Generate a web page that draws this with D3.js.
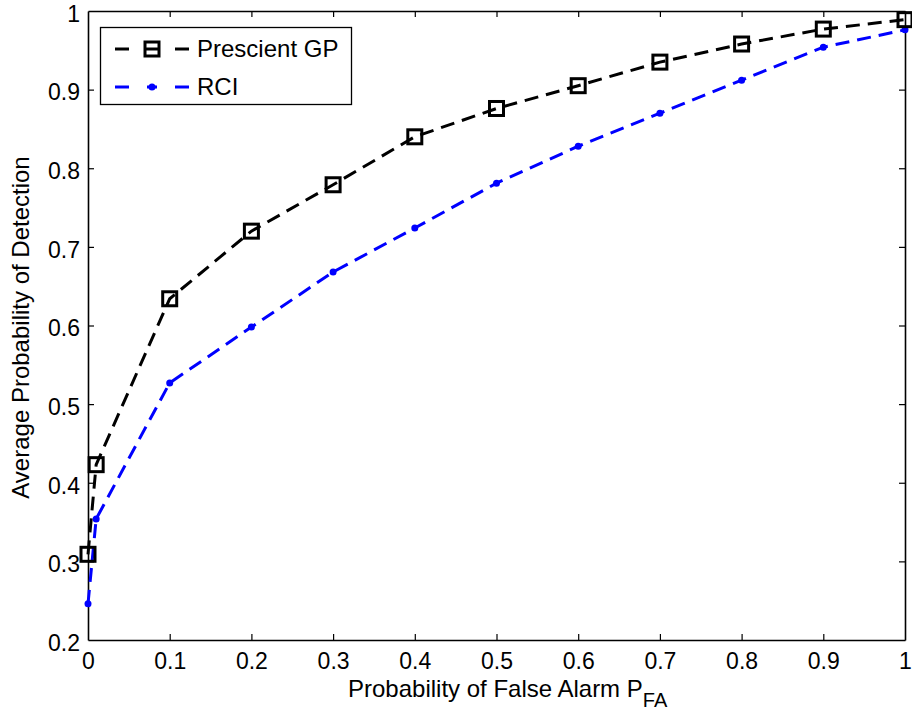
<!DOCTYPE html>
<html><head><meta charset="utf-8">
<script src="https://cdn.jsdelivr.net/npm/d3@7"></script>
<style>body{margin:0;background:#fff}svg{display:block}text{font-family:"Liberation Sans",Arial,sans-serif}</style>
</head><body>
<script>
const pfa = [0, 0.01, 0.1, 0.2, 0.3, 0.4, 0.5, 0.6, 0.7, 0.8, 0.9, 1.0];
const prescientGP = [0.309, 0.423, 0.634, 0.720, 0.779, 0.840, 0.876, 0.905, 0.935, 0.958, 0.977, 0.989];
const rci = [0.246, 0.354, 0.527, 0.598, 0.668, 0.724, 0.781, 0.828, 0.870, 0.912, 0.954, 0.976];
const xTicks = [0, 0.1, 0.2, 0.3, 0.4, 0.5, 0.6, 0.7, 0.8, 0.9, 1];
const yTicks = [0.2, 0.3, 0.4, 0.5, 0.6, 0.7, 0.8, 0.9, 1];
const seriesNames = ["Prescient GP", "RCI"];

const W = 912, H = 712;
const L = 88, R = 905, T = 11, B = 640;
const svg = d3.select("body").append("svg").attr("width", W).attr("height", H);
const x = d3.scaleLinear().domain([0, 1]).range([L, R]);
const y = d3.scaleLinear().domain([0.2, 1]).range([B, T]);
const fmt = d => d === 0 ? "0" : d === 1 ? "1" : String(d);
const fs = 23;

// axes box with inward ticks
const tl = 6;
const gx = svg.append("g").attr("transform", `translate(0,${B})`)
  .call(d3.axisBottom(x).tickValues(xTicks).tickFormat(fmt).tickSizeInner(-tl).tickSizeOuter(0).tickPadding(13));
const gxt = svg.append("g").attr("transform", `translate(0,${T})`)
  .call(d3.axisTop(x).tickValues(xTicks).tickFormat("").tickSizeInner(-tl).tickSizeOuter(0));
const gy = svg.append("g").attr("transform", `translate(${L},0)`)
  .call(d3.axisLeft(y).tickValues(yTicks).tickFormat(fmt).tickSizeInner(-tl).tickSizeOuter(0).tickPadding(8));
const gyr = svg.append("g").attr("transform", `translate(${R},0)`)
  .call(d3.axisRight(y).tickValues(yTicks).tickFormat("").tickSizeInner(-tl).tickSizeOuter(0));
[gx, gxt, gy, gyr].forEach(g => {
  g.selectAll("path").attr("stroke", "#000").attr("stroke-width", 1.6);
  g.selectAll("line").attr("stroke", "#000").attr("stroke-width", 1.2);
  g.selectAll("text").attr("font-size", fs).attr("fill", "#000").style("font-family", '"Liberation Sans",Arial,sans-serif');
});
gy.selectAll("text").attr("dy", "0.45em");
[gx, gxt].forEach(g => g.selectAll(".tick").filter(d => d === 0 || d === 1).select("line").remove());
[gy, gyr].forEach(g => g.selectAll(".tick").filter(d => d === 0.2 || d === 1).select("line").remove());

const line = d3.line().x(d => x(d[0])).y(d => y(d[1]));
const gpData = pfa.map((v, i) => [v, prescientGP[i]]);
const rciData = pfa.map((v, i) => [v, rci[i]]);

svg.append("path").datum(rciData).attr("d", line).attr("fill", "none")
  .attr("stroke", "#0000ff").attr("stroke-width", 3).attr("stroke-dasharray", "14,8");
svg.append("path").datum(gpData).attr("d", line).attr("fill", "none")
  .attr("stroke", "#000").attr("stroke-width", 3).attr("stroke-dasharray", "14,8");

svg.selectAll("circle.rci").data(rciData).enter().append("circle")
  .attr("cx", d => x(d[0])).attr("cy", d => y(d[1])).attr("r", 3.5).attr("fill", "#0000ff");
const sq = 14;
svg.selectAll("rect.gp").data(gpData).enter().append("rect")
  .attr("x", d => x(d[0]) - sq / 2).attr("y", d => y(d[1]) - sq / 2)
  .attr("width", sq).attr("height", sq).attr("fill", "none").attr("stroke", "#000").attr("stroke-width", 3);

// axis labels
const xl = svg.append("text").attr("x", 348).attr("y", 697).attr("text-anchor", "start")
  .attr("font-size", 24).attr("fill", "#000");
xl.append("tspan").text("Probability of False Alarm P");
xl.append("tspan").attr("dy", 10).attr("font-size", 20).text("FA");

svg.append("text").attr("transform", `translate(29,${(T + B) / 2 + 2}) rotate(-90)`)
  .attr("text-anchor", "middle").attr("font-size", 24).attr("fill", "#000")
  .text("Average Probability of Detection");

// legend
const lg = svg.append("g");
lg.append("rect").attr("x", 100.5).attr("y", 27.5).attr("width", 251).attr("height", 77)
  .attr("fill", "#fff").attr("stroke", "#000").attr("stroke-width", 1.3);
const entries = [
  {name: seriesNames[0], color: "#000", y: 49, marker: "sq"},
  {name: seriesNames[1], color: "#0000ff", y: 87, marker: "dot"}
];
entries.forEach(e => {
  lg.append("line").attr("x1", 115).attr("x2", 129).attr("y1", e.y).attr("y2", e.y).attr("stroke", e.color).attr("stroke-width", 3);
  lg.append("line").attr("x1", 175).attr("x2", 189).attr("y1", e.y).attr("y2", e.y).attr("stroke", e.color).attr("stroke-width", 3);
  if (e.marker === "sq") {
    lg.append("line").attr("x1", 145).attr("x2", 159).attr("y1", e.y).attr("y2", e.y).attr("stroke", e.color).attr("stroke-width", 3);
    lg.append("rect").attr("x", 152 - 7).attr("y", e.y - 7).attr("width", 14).attr("height", 14)
      .attr("fill", "none").attr("stroke", e.color).attr("stroke-width", 3);
  } else {
    lg.append("line").attr("x1", 147).attr("x2", 157).attr("y1", e.y).attr("y2", e.y).attr("stroke", e.color).attr("stroke-width", 3);
    lg.append("circle").attr("cx", 152).attr("cy", e.y).attr("r", 3.5).attr("fill", e.color);
  }
  lg.append("text").attr("x", 197).attr("y", e.y + 8).attr("font-size", 24).attr("fill", "#000").text(e.name);
});
</script>
</body></html>
